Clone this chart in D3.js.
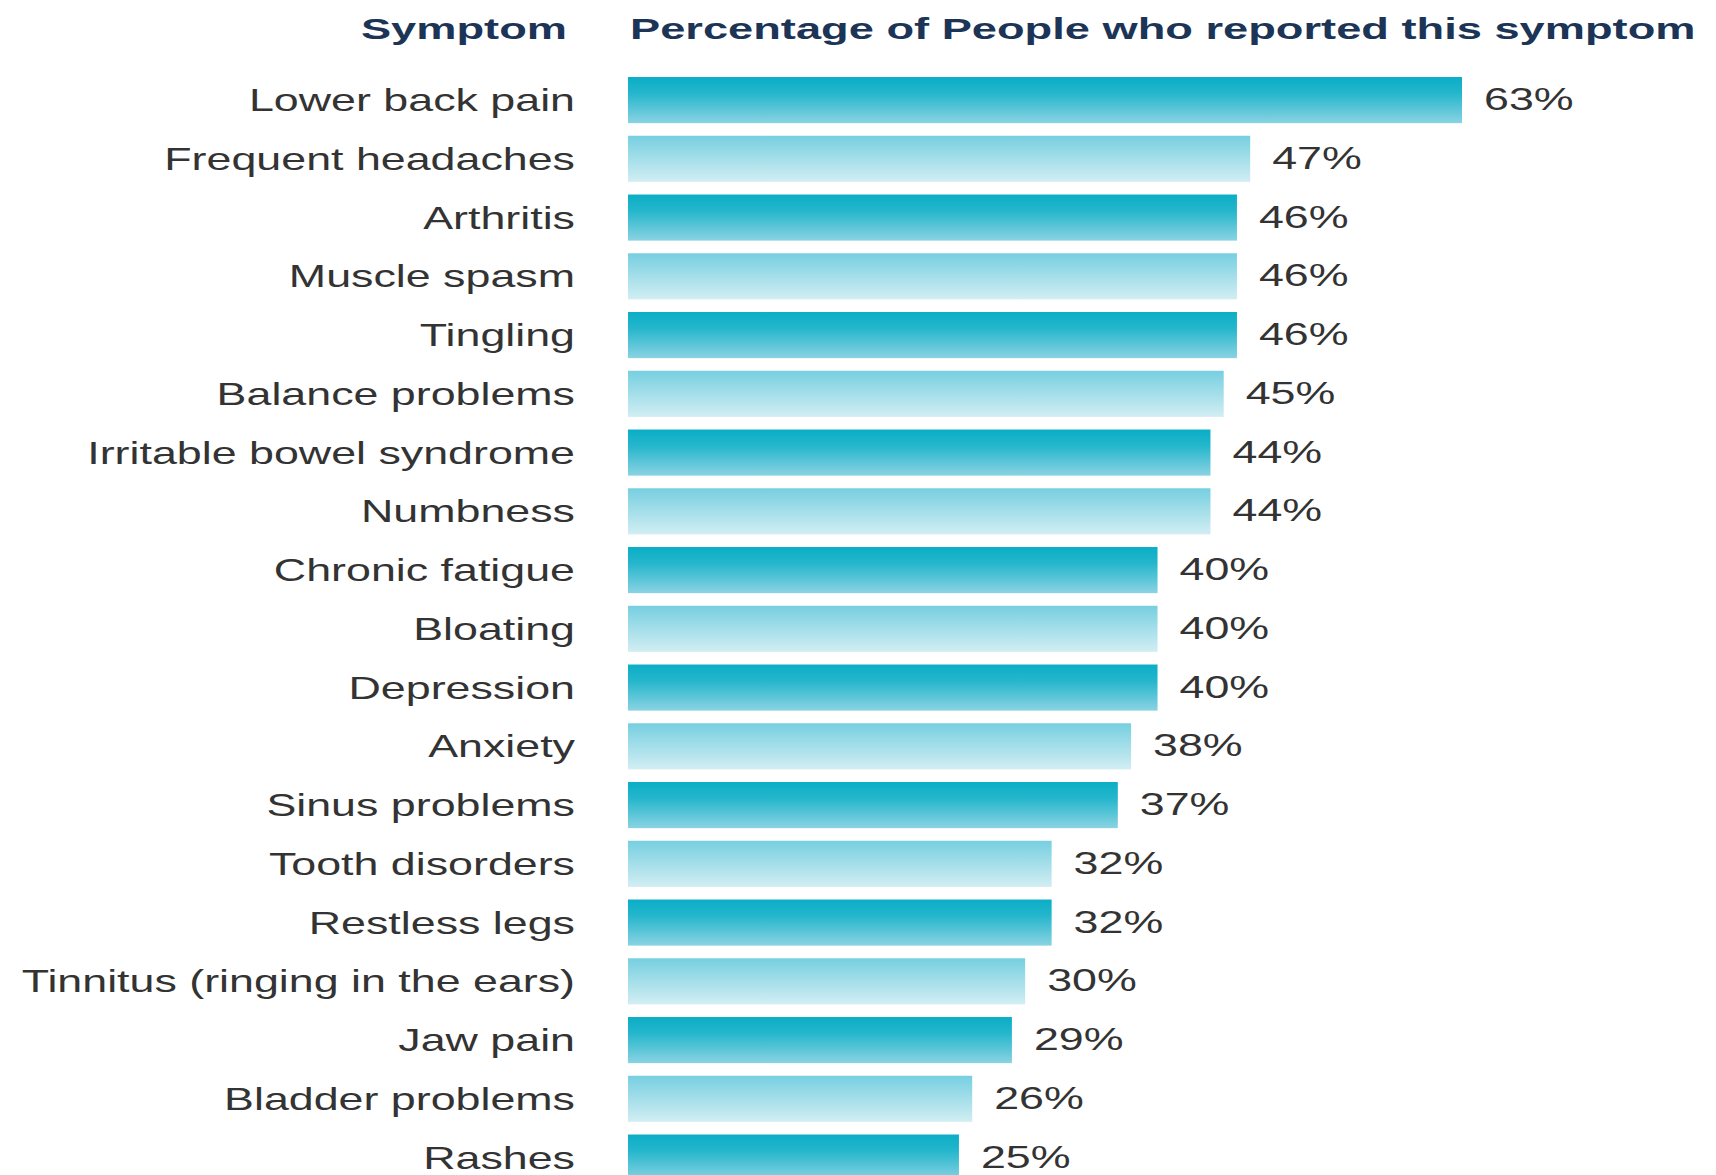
<!DOCTYPE html>
<html>
<head>
<meta charset="utf-8">
<script src="https://cdn.jsdelivr.net/npm/d3@7"></script>
<style>
  html, body { margin: 0; padding: 0; background: #ffffff; }
  svg { display: block; }
</style>
</head>
<body>
<script>
// Symptoms reported, in display order (top to bottom)
const symptoms = [
  "Lower back pain", "Frequent headaches", "Arthritis", "Muscle spasm", "Tingling",
  "Balance problems", "Irritable bowel syndrome", "Numbness", "Chronic fatigue", "Bloating",
  "Depression", "Anxiety", "Sinus problems", "Tooth disorders", "Restless legs",
  "Tinnitus (ringing in the ears)", "Jaw pain", "Bladder problems", "Rashes"
];
// Percentage of people reporting each symptom
const percentages = [63, 47, 46, 46, 46, 45, 44, 44, 40, 40, 40, 38, 37, 32, 32, 30, 29, 26, 25];
// Column headings
const headings = ["Symptom", "Percentage of People who reported this symptom"];

const W = 1716, H = 1175;
const SX = 1.4;   // horizontal stretch of the body type
const SXH = 1.56; // horizontal stretch of the heading type

const svg = d3.select("body").append("svg")
  .attr("width", W).attr("height", H)
  .attr("viewBox", `0 0 ${W} ${H}`);

const defs = svg.append("defs");
const dark = defs.append("linearGradient").attr("id", "gDark")
  .attr("x1", 0).attr("y1", 0).attr("x2", 0).attr("y2", 1);
dark.append("stop").attr("offset", "0%").attr("stop-color", "#0aaec6");
dark.append("stop").attr("offset", "35%").attr("stop-color", "#24b6cc");
dark.append("stop").attr("offset", "100%").attr("stop-color", "#8ad3e2");
const light = defs.append("linearGradient").attr("id", "gLight")
  .attr("x1", 0).attr("y1", 0).attr("x2", 0).attr("y2", 1);
light.append("stop").attr("offset", "0%").attr("stop-color", "#76cfe0");
light.append("stop").attr("offset", "100%").attr("stop-color", "#d2eef3");

const x = d3.scaleLinear().domain([0, 63]).range([628, 1462]);
const y = d3.scaleBand().domain(symptoms).range([70.7, 70.7 + 19 * 58.75])
  .paddingInner(0.215).paddingOuter(0.1075);

const rows = symptoms.map((s, i) => ({ s, v: percentages[i], i }));

// bars
svg.append("g").selectAll("rect").data(rows).join("rect")
  .attr("x", x(0))
  .attr("y", d => y(d.s))
  .attr("width", d => x(d.v) - x(0))
  .attr("height", y.bandwidth())
  .attr("fill", d => d.i % 2 === 0 ? "url(#gDark)" : "url(#gLight)");

const font = "'Liberation Sans', Arial, sans-serif";

// symptom labels
svg.append("g").selectAll("text").data(rows).join("text")
  .attr("transform", d => `translate(575,${y(d.s) + y.bandwidth() / 2 + 11}) scale(${SX},1)`)
  .attr("text-anchor", "end")
  .attr("font-family", font).attr("font-size", 32)
  .attr("fill", "#333333")
  .text(d => d.s);

// value labels
svg.append("g").selectAll("text").data(rows).join("text")
  .attr("transform", d => `translate(${x(d.v) + 22},${y(d.s) + y.bandwidth() / 2 + 10}) scale(${SX},1)`)
  .attr("font-family", font).attr("font-size", 32)
  .attr("fill", "#333333")
  .text(d => d.v + "%");

// column headings
svg.append("text")
  .attr("transform", `translate(567,39) scale(${SXH},1)`)
  .attr("text-anchor", "end")
  .attr("font-family", font).attr("font-size", 29).attr("font-weight", "bold")
  .attr("fill", "#1c3557")
  .text(headings[0]);
svg.append("text")
  .attr("transform", `translate(630,39) scale(${SXH},1)`)
  .attr("font-family", font).attr("font-size", 29).attr("font-weight", "bold")
  .attr("fill", "#1c3557")
  .text(headings[1]);
</script>
</body>
</html>
